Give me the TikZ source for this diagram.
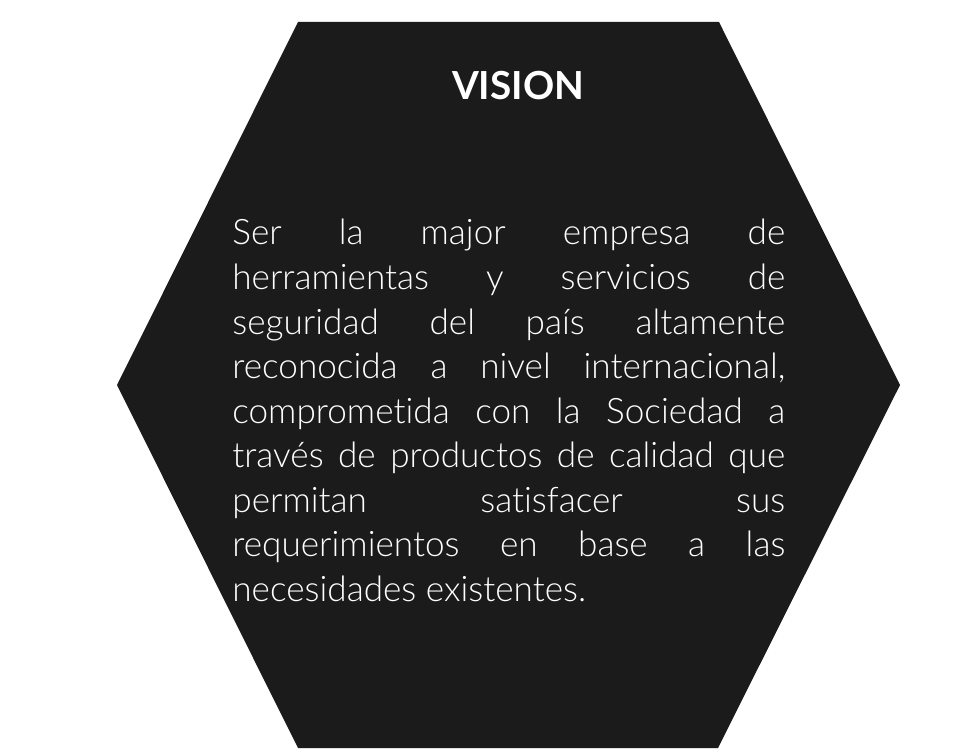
\documentclass[tikz,border=0pt]{standalone}
\usepackage{fontspec}
\setmainfont{Lato}
\newfontfamily\lightfont[RawFeature=-liga]{Lato Light}
\usetikzlibrary{positioning}
\hyphenpenalty=10000
\definecolor{hexfill}{HTML}{1B1B1B}
\tikzset{
  hexa/.style ={fill=hexfill, draw=none},
  ttl/.style  ={text=white, font=\fontsize{22pt}{26pt}\selectfont\bfseries, inner sep=0pt},
  body/.style ={text=white, font=\lightfont\fontsize{20pt}{25.33pt}\selectfont,
                text width=11.06cm, align=justify, inner sep=0pt}
}
\begin{document}
\begin{tikzpicture}[x=0.02cm, y=-0.02cm]
\useasboundingbox (0,0) rectangle (967,753);
\fill[hexa] (298,22) -- (719,22) -- (900,385) -- (718,748) -- (298,748) -- (117,385) -- cycle;
\node[ttl] (title) at (518,86) {VISION};
\node[body, anchor=base west] (text) at (232,245)
  {Ser la major empresa de\linebreak
   herramientas y servicios de\linebreak
   seguridad del país altamente\linebreak
   reconocida a nivel internacional,\linebreak
   comprometida con la Sociedad a\linebreak
   través de productos de calidad que\linebreak
   permitan satisfacer sus\linebreak
   requerimientos en base a las\linebreak
   necesidades existentes.};
\end{tikzpicture}
\end{document}
